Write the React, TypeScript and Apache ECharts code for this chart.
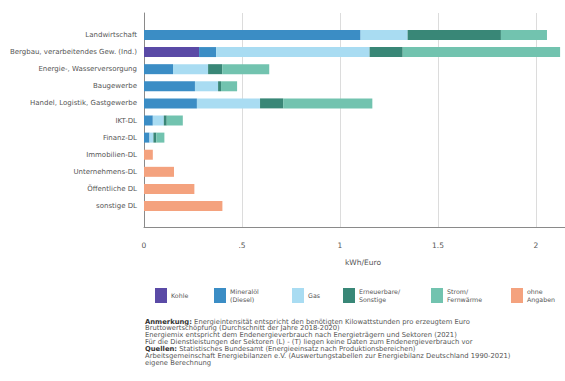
import React, { useEffect, useRef } from "react";
import * as echarts from "echarts";

const categories = [
  "Landwirtschaft",
  "Bergbau, verarbeitendes Gew. (Ind.)",
  "Energie-, Wasserversorgung",
  "Baugewerbe",
  "Handel, Logistik, Gastgewerbe",
  "IKT-DL",
  "Finanz-DL",
  "Immobilien-DL",
  "Unternehmens-DL",
  "Öffentliche DL",
  "sonstige DL",
];

const kohle = [0, 0.281, 0, 0, 0, 0, 0, 0, 0, 0, 0];
const mineraloel = [1.105, 0.087, 0.148, 0.26, 0.27, 0.045, 0.028, 0, 0, 0, 0];
const gas = [0.24, 0.783, 0.179, 0.118, 0.322, 0.056, 0.02, 0, 0, 0, 0];
const erneuerbare = [0.476, 0.169, 0.072, 0.015, 0.118, 0.015, 0.015, 0, 0, 0, 0];
const strom = [0.235, 0.803, 0.24, 0.082, 0.455, 0.082, 0.041, 0, 0, 0, 0];
const ohneAngaben = [0, 0, 0, 0, 0, 0, 0, 0.045, 0.153, 0.257, 0.4];

const seriesNames = [
  "Kohle",
  "Mineralöl\n(Diesel)",
  "Gas",
  "Erneuerbare/\nSonstige",
  "Strom/\nFernwärme",
  "ohne\nAngaben",
];
const seriesColors = ["#5a4aa6", "#3b8dc5", "#a9dcf2", "#398777", "#72c3af", "#f4a27e"];
const seriesData = [kohle, mineraloel, gas, erneuerbare, strom, ohneAngaben];
const legendLefts = [155, 214, 292, 343, 431, 511];

const tickLabels: Record<string, string> = { "0": "0", "0.5": ".5", "1": "1", "1.5": "1.5", "2": "2" };

const notes = [
  "{b|Anmerkung:} Energieintensität entspricht den benötigten Kilowattstunden pro erzeugtem Euro",
  "Bruttowertschöpfung (Durchschnitt der Jahre 2018-2020)",
  "Energiemix entspricht dem Endenergieverbrauch nach Energieträgern und Sektoren (2021)",
  "Für die Dienstleistungen der Sektoren (L) - (T) liegen keine Daten zum Endenergieverbrauch vor",
  "{b|Quellen:} Statistisches Bundesamt (Energieeinsatz nach Produktionsbereichen)",
  "Arbeitsgemeinschaft Energiebilanzen e.V. (Auswertungstabellen zur Energiebilanz Deutschland 1990-2021)",
  "eigene Berechnung",
];

const FONT = "'DejaVu Sans', Lato, sans-serif";

export default function App() {
  const ref = useRef<HTMLDivElement>(null);
  useEffect(() => {
    document.body.style.margin = "0";
    const chart = echarts.init(ref.current!, undefined, { renderer: "svg" });
    const axisMax = 2.5;
    const pxPerUnit = 196;
    const gridWidth = axisMax * pxPerUnit;
    chart.setOption({
      animation: false,
      backgroundColor: "#ffffff",
      textStyle: { fontFamily: FONT },
      grid: [
        { left: 144, top: 13, width: gridWidth, height: 214 },
        { left: 144, top: 26.4, width: gridWidth, height: 188.2 },
      ],
      xAxis: [
        {
          type: "value",
          gridIndex: 0,
          min: 0,
          max: axisMax,
          interval: 0.5,
          axisLine: { show: true, lineStyle: { color: "#8a8a8a", width: 1 } },
          axisTick: { show: false },
          splitLine: { show: true, lineStyle: { color: "#dcdcdc", width: 1 } },
          axisLabel: {
            margin: 14,
            fontSize: 7.5,
            color: "#555",
            fontFamily: FONT,
            formatter: (v: number) => tickLabels[String(v)] ?? "",
          },
        },
        { type: "value", gridIndex: 1, min: 0, max: axisMax, show: false },
      ],
      yAxis: [
        {
          type: "value",
          gridIndex: 0,
          min: 0,
          max: 1,
          axisLine: { show: true, lineStyle: { color: "#8a8a8a", width: 1 } },
          axisTick: { show: false },
          axisLabel: { show: false },
          splitLine: { show: false },
        },
        {
          type: "category",
          gridIndex: 1,
          inverse: true,
          data: categories,
          axisLine: { show: false },
          axisTick: { show: false },
          axisLabel: { margin: 7, fontSize: 7, color: "#555", fontFamily: FONT },
        },
      ],
      legend: seriesNames.map((n, i) => ({
        data: [n],
        left: legendLefts[i],
        top: 288,
        icon: "rect",
        itemWidth: 12,
        itemHeight: 15,
        itemGap: 0,
        padding: 0,
        selectedMode: false,
        textStyle: { fontSize: 6.3, lineHeight: 7.5, color: "#555", fontFamily: FONT, padding: [0, 0, 0, -1] },
      })),
      series: seriesNames.map((n, i) => ({
        name: n,
        type: "bar",
        xAxisIndex: 1,
        yAxisIndex: 1,
        stack: "total",
        barWidth: 10,
        itemStyle: { color: seriesColors[i] },
        data: seriesData[i],
      })),
      graphic: [
        {
          type: "text",
          x: 363,
          y: 258,
          style: { text: "kWh/Euro", fontSize: 7.5, fill: "#555", fontFamily: FONT, align: "center" },
        },
        ...notes.map((t, i) => ({
          type: "text",
          x: 145,
          y: 318 + i * 6.9,
          style: {
            text: t,
            fontSize: 6.8,
            fill: "#555",
            fontFamily: FONT,
            rich: { b: { fontSize: 6.8, fontWeight: "bold", fill: "#333", fontFamily: FONT } },
          },
        })),
      ],
    });
    return () => chart.dispose();
  }, []);
  return (
    <div style={{ width: 565, height: 381, overflow: "hidden", position: "relative" }}>
      <div ref={ref} style={{ width: 700, height: 381 }} />
    </div>
  );
}
